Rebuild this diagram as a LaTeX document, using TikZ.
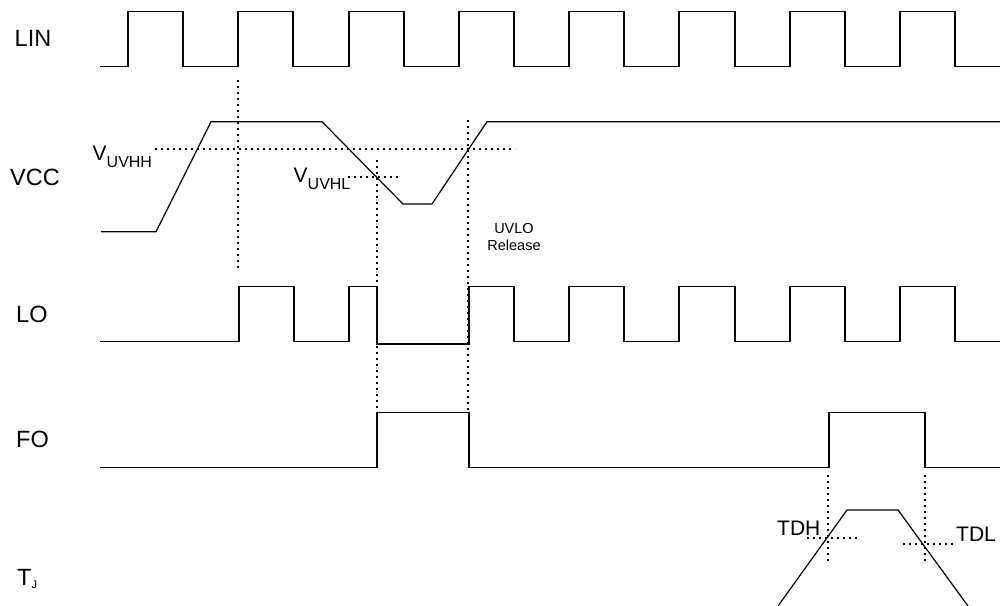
\documentclass[tikz,border=0pt]{standalone}
\usepackage{fontspec}
\setmainfont{Liberation Sans}
\begin{document}
\begin{tikzpicture}[x=1pt,y=-1pt,
  wave/.style={line width=1.2pt, line join=miter},
  guide/.style={line width=1.7pt, dash pattern=on 1.7pt off 4.3pt},
  siglabel/.style={anchor=base west, inner sep=0pt, font=\fontsize{23.5}{28}\selectfont},
  thrlabel/.style={anchor=base west, inner sep=0pt, font=\fontsize{21}{25}\selectfont},
  smalllabel/.style={align=center, inner sep=0pt, font=\fontsize{14.5}{17}\selectfont}]
\useasboundingbox (0,0) rectangle (1000,605);

% signal labels
\node[siglabel] (lin) at (14.5,46.5) {LIN};
\node[siglabel] (vcc) at (10,185) {VCC};
\node[siglabel] (lo) at (16,322) {LO};
\node[siglabel] (fo) at (16,447) {FO};
\node[siglabel] (tj) at (17,585) {T\raisebox{-3pt}{\fontsize{11}{11}\selectfont J}};

% LIN
\draw[wave] (100,66.5) -- (128,66.5) -- (128,11.3) -- (183,11.3) -- (183,66.5)
  -- (238,66.5) -- (238,11.3) -- (293,11.3) -- (293,66.5)
  -- (349,66.5) -- (349,11.3) -- (404,11.3) -- (404,66.5)
  -- (459,66.5) -- (459,11.3) -- (514,11.3) -- (514,66.5)
  -- (569,66.5) -- (569,11.3) -- (624,11.3) -- (624,66.5)
  -- (679,66.5) -- (679,11.3) -- (735,11.3) -- (735,66.5)
  -- (790,66.5) -- (790,11.3) -- (845,11.3) -- (845,66.5)
  -- (900,66.5) -- (900,11.3) -- (955,11.3) -- (955,66.5) -- (1000,66.5);

% VCC
\draw[wave] (101,231.7) -- (156,231.7) -- (211,121.7) -- (322,121.7) -- (403,204)
  -- (432,204) -- (487,121.7) -- (1000,121.7);

% LO
\draw[wave] (100,341.7) -- (239,341.7) -- (239,286.7) -- (294,286.7) -- (294,341.7)
  -- (349,341.7) -- (349,286.7) -- (377,286.7) -- (377,344) -- (469,344)
  -- (469,286.7) -- (514,286.7) -- (514,341.7)
  -- (569,341.7) -- (569,286.7) -- (624,286.7) -- (624,341.7)
  -- (679,341.7) -- (679,286.7) -- (735,286.7) -- (735,341.7)
  -- (790,341.7) -- (790,286.7) -- (845,286.7) -- (845,341.7)
  -- (900,341.7) -- (900,286.7) -- (955,286.7) -- (955,341.7) -- (1000,341.7);

% FO
\draw[wave] (100,467.7) -- (377,467.7) -- (377,412.7) -- (469,412.7) -- (469,467.7)
  -- (829,467.7) -- (829,412.7) -- (925,412.7) -- (925,467.7) -- (1000,467.7);

% TJ
\draw[wave] (778,606) -- (847,510) -- (898,510) -- (968,606);

% guides
\draw[guide] (238,80) -- (238,270);
\draw[guide] (377,160) -- (377,412);
\draw[guide] (468,120) -- (468,412);
\draw[guide] (155,149) -- (515,149);
\draw[guide] (348,177) -- (400,177);
\draw[guide] (828,475) -- (828,562);
\draw[guide] (925,475) -- (925,562);
\draw[guide] (807,538) -- (857,538);
\draw[guide] (903,544) -- (954,544);

% threshold labels
\node[thrlabel] (vuvhh) at (92.5,160) {V\raisebox{-7pt}{\fontsize{16}{16}\selectfont UVHH}};
\node[thrlabel] (vuvhl) at (293.5,182) {V\raisebox{-7pt}{\fontsize{16}{16}\selectfont UVHL}};
\node[thrlabel] (tdh) at (777,535) {TDH};
\node[thrlabel] (tdl) at (956,541.5) {TDL};
\node[smalllabel] (uvlo) at (514,237) {UVLO\\Release};
\end{tikzpicture}
\end{document}
